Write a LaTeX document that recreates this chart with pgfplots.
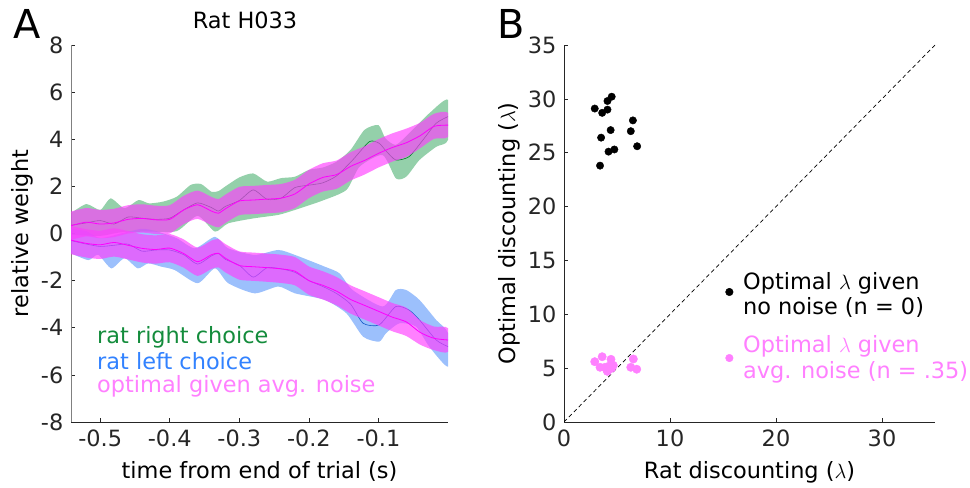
\documentclass[border=0pt]{standalone}
\usepackage{pgfplots}
\pgfplotsset{compat=1.18}
\usepackage{pgfplotstable}
\usepackage{fontspec}
\setmainfont{DejaVu Sans}

\definecolor{gfill}{RGB}{60,170,100}
\definecolor{bfill}{RGB}{90,150,250}
\definecolor{pband}{RGB}{255,60,255}
\definecolor{gline}{RGB}{0,120,40}
\definecolor{bline}{RGB}{20,90,200}
\definecolor{mline}{RGB}{255,0,255}
\definecolor{gtext}{RGB}{20,140,60}
\definecolor{btext}{RGB}{50,130,255}
\definecolor{ptext}{RGB}{255,128,255}
\definecolor{axc}{RGB}{38,38,38}

% optimal (magenta) curves
\pgfplotstableread{
x      m     mn
-0.542 0.33  -0.28
-0.52  0.48  -0.42
-0.50  0.40  -0.48
-0.48  0.45  -0.38
-0.46  0.60  -0.50
-0.44  0.64  -0.63
-0.42  0.58  -0.68
-0.40  0.60  -0.62
-0.38  1.00  -0.85
-0.36  1.22  -1.20
-0.34  0.95  -0.90
-0.33  0.86  -0.84
-0.32  1.05  -1.05
-0.30  1.38  -1.36
-0.28  1.42  -1.41
-0.26  1.46  -1.45
-0.24  1.50  -1.50
-0.22  1.68  -1.60
-0.20  2.10  -2.00
-0.18  2.38  -2.20
-0.16  2.50  -2.45
-0.14  2.85  -2.80
-0.12  3.10  -3.05
-0.10  3.40  -3.30
-0.08  3.65  -3.55
-0.06  3.85  -3.75
-0.04  4.15  -4.20
-0.02  4.55  -4.45
0      4.60  -4.52
}\opt

% band of the positive optimal curve: upper edge, then lower edge backwards
\pgfplotstableread{
x y
-0.542 0.93
-0.52 1.08
-0.50 1.00
-0.48 1.05
-0.46 1.20
-0.44 1.24
-0.42 1.18
-0.40 1.20
-0.38 1.60
-0.36 1.82
-0.34 1.55
-0.33 1.46
-0.32 1.65
-0.30 1.98
-0.28 2.02
-0.26 2.06
-0.24 2.10
-0.22 2.28
-0.20 2.70
-0.18 2.98
-0.16 3.10
-0.14 3.45
-0.12 3.70
-0.10 4.00
-0.08 4.25
-0.06 4.45
-0.04 4.70
-0.02 5.08
0 5.12
0 4.10
-0.02 4.02
-0.04 3.62
-0.06 3.25
-0.08 3.05
-0.10 2.80
-0.12 2.50
-0.14 2.25
-0.16 1.90
-0.18 1.78
-0.20 1.50
-0.22 1.08
-0.24 0.90
-0.26 0.86
-0.28 0.82
-0.30 0.78
-0.32 0.45
-0.33 0.26
-0.34 0.35
-0.36 0.62
-0.38 0.40
-0.40 0.00
-0.42 -0.02
-0.44 0.04
-0.46 0.00
-0.48 -0.15
-0.50 -0.20
-0.52 -0.12
-0.542 -0.27
}\mband

% band of the negative optimal curve
\pgfplotstableread{
x y
-0.542 0.32
-0.52 0.18
-0.50 0.12
-0.48 0.22
-0.46 0.10
-0.44 -0.03
-0.42 -0.08
-0.40 -0.02
-0.38 -0.25
-0.36 -0.60
-0.34 -0.30
-0.33 -0.24
-0.32 -0.45
-0.30 -0.76
-0.28 -0.81
-0.26 -0.85
-0.24 -0.90
-0.22 -1.00
-0.20 -1.40
-0.18 -1.60
-0.16 -1.85
-0.14 -2.20
-0.12 -2.45
-0.10 -2.70
-0.08 -2.95
-0.06 -3.15
-0.04 -3.68
-0.02 -3.95
0 -4.02
0 -5.02
-0.02 -4.95
-0.04 -4.72
-0.06 -4.35
-0.08 -4.15
-0.10 -3.90
-0.12 -3.65
-0.14 -3.40
-0.16 -3.05
-0.18 -2.80
-0.20 -2.60
-0.22 -2.20
-0.24 -2.10
-0.26 -2.05
-0.28 -2.01
-0.30 -1.96
-0.32 -1.65
-0.33 -1.44
-0.34 -1.50
-0.36 -1.80
-0.38 -1.45
-0.40 -1.22
-0.42 -1.28
-0.44 -1.23
-0.46 -1.10
-0.48 -0.98
-0.50 -1.08
-0.52 -1.02
-0.542 -0.88
}\nband

% rat right choice (green)
\pgfplotstableread{
x g
-0.542 0.35
-0.52 0.45
-0.50 0.55
-0.48 0.40
-0.46 0.70
-0.44 0.65
-0.42 0.60
-0.40 0.65
-0.38 1.00
-0.36 1.30
-0.34 1.10
-0.33 0.95
-0.32 1.15
-0.30 1.40
-0.28 1.85
-0.26 1.45
-0.24 1.50
-0.22 1.95
-0.20 2.05
-0.18 2.15
-0.16 2.45
-0.137 3.12
-0.113 3.90
-0.099 3.83
-0.089 3.50
-0.075 3.12
-0.056 3.26
-0.036 3.97
-0.017 4.68
0 4.96
}\gmean
\pgfplotstableread{
x y
-0.542 0.86
-0.52 1.25
-0.50 1.00
-0.485 1.49
-0.465 1.07
-0.445 1.42
-0.43 1.28
-0.41 1.35
-0.39 1.56
-0.37 2.06
-0.355 2.10
-0.34 1.77
-0.33 1.80
-0.32 2.00
-0.30 2.38
-0.28 2.55
-0.26 2.20
-0.24 2.35
-0.22 2.41
-0.20 2.70
-0.18 2.80
-0.16 3.05
-0.14 3.55
-0.12 4.40
-0.10 4.60
-0.09 4.04
-0.075 3.76
-0.056 4.25
-0.027 5.10
0 5.67
0 3.97
-0.017 3.68
-0.041 3.12
-0.06 2.41
-0.075 2.34
-0.094 3.33
-0.127 2.84
-0.146 1.85
-0.18 1.40
-0.22 1.00
-0.244 0.79
-0.28 0.64
-0.316 0.43
-0.335 0.08
-0.36 0.75
-0.39 0.10
-0.43 0.08
-0.47 0.05
-0.50 -0.10
-0.542 -0.05
}\gband

% rat left choice (blue)
\pgfplotstableread{
x b
-0.542 -0.30
-0.52 -0.45
-0.50 -0.55
-0.48 -0.50
-0.46 -0.45
-0.44 -0.75
-0.42 -0.70
-0.40 -0.70
-0.38 -0.90
-0.36 -1.30
-0.34 -0.95
-0.33 -0.85
-0.32 -1.10
-0.30 -1.35
-0.28 -1.85
-0.26 -1.45
-0.24 -1.50
-0.22 -1.65
-0.20 -2.00
-0.18 -2.25
-0.16 -2.55
-0.14 -3.00
-0.122 -3.81
-0.099 -3.88
-0.075 -3.10
-0.056 -3.25
-0.041 -3.67
-0.017 -4.52
0 -4.80
}\bmean
\pgfplotstableread{
x y
-0.542 0.20
-0.52 0.10
-0.50 -0.20
-0.47 0.00
-0.44 0.20
-0.42 0.10
-0.39 -0.20
-0.364 -0.63
-0.335 -0.14
-0.316 -0.63
-0.278 -0.91
-0.244 -0.70
-0.22 -0.91
-0.177 -1.41
-0.156 -1.69
-0.137 -2.40
-0.094 -3.10
-0.075 -2.40
-0.06 -2.40
-0.041 -2.82
-0.017 -3.67
0 -4.23
0 -5.65
-0.027 -4.80
-0.046 -3.95
-0.07 -3.81
-0.089 -4.23
-0.099 -4.59
-0.122 -4.38
-0.146 -3.39
-0.177 -2.82
-0.22 -2.54
-0.244 -2.25
-0.278 -2.54
-0.316 -2.11
-0.335 -1.48
-0.36 -2.11
-0.393 -1.55
-0.412 -1.41
-0.431 -1.27
-0.446 -1.48
-0.465 -1.05
-0.484 -1.48
-0.503 -0.90
-0.517 -1.13
-0.542 -0.84
}\bband

% right panel
\pgfplotstableread{
x y
4.5 30.2
4.1 29.8
2.9 29.1
3.6 28.7
4.1 29.0
6.5 28.0
4.4 27.1
6.3 27.0
3.5 26.4
6.9 25.6
4.75 25.3
4.2 25.1
3.4 23.8
}\noiseless
\pgfplotstableread{
x y
2.9 5.6
3.6 6.06
4.43 5.82
3.4 5.08
4.27 5.2
4.65 5.26
4.03 4.83
4.5 4.99
6.54 5.85
6.3 5.08
6.86 4.9
3.87 5.08
4.1 4.7
}\noisy

\pgfplotsset{
  panel/.style={
    scale only axis,
    axis lines=left,
    axis line style={-, axc, line width=0.8bp},
    tick align=inside,
    major tick length=4bp,
    tick style={axc, line width=0.6bp},
    every tick label/.append style={text=axc},
    label style={text=black},
    ylabel shift=-7bp,
  }
}

\begin{document}
\fontsize{22.5}{27}\selectfont
\begin{tikzpicture}
\path[use as bounding box] (0,0) rectangle (970bp,488bp);

\begin{axis}[panel,
  at={(71bp,66bp)}, anchor=south west, width=377bp, height=377bp,
  xmin=-0.542, xmax=0, ymin=-8, ymax=8,
  y axis line style={black!50},
  xtick={-0.5,-0.4,-0.3,-0.2,-0.1}, xticklabels={-0.5,-0.4,-0.3,-0.2,-0.1},
  ytick={-8,-6,-4,-2,0,2,4,6,8}, yticklabels={-8,-6,-4,-2,0,2,4,6,8},
  xlabel={time from end of trial (s)}, ylabel={relative weight},
]
\addplot[draw=none, fill=gfill, fill opacity=0.55, smooth, tension=0.4] table[x=x,y=y]{\gband} -- cycle;
\addplot[draw=none, fill=bfill, fill opacity=0.6, smooth, tension=0.4] table[x=x,y=y]{\bband} -- cycle;
\addplot[gline, line width=0.6bp, smooth, tension=0.4] table[x=x,y=g]{\gmean};
\addplot[bline, line width=0.6bp, smooth, tension=0.4] table[x=x,y=b]{\bmean};
\addplot[draw=none, fill=pband, fill opacity=0.65, smooth, tension=0.4] table[x=x,y=y]{\mband} -- cycle;
\addplot[draw=none, fill=pband, fill opacity=0.65, smooth, tension=0.4] table[x=x,y=y]{\nband} -- cycle;
\addplot[mline, line width=0.8bp, smooth, tension=0.4] table[x=x,y=m]{\opt};
\addplot[mline, line width=0.8bp, smooth, tension=0.4] table[x=x,y=mn]{\opt};
\end{axis}

\begin{axis}[panel,
  at={(564bp,66bp)}, anchor=south west, width=371bp, height=377bp,
  xmin=0, xmax=35, ymin=0, ymax=35,
  xtick={0,10,20,30}, xticklabels={0,10,20,30},
  ytick={0,5,10,15,20,25,30,35}, yticklabels={0,5,10,15,20,25,30,35},
  xlabel={Rat discounting ($\lambda$)}, ylabel={Optimal discounting ($\lambda$)},
]
\addplot[black, line width=0.7bp, dash pattern=on 4bp off 3bp] coordinates {(0,0) (35,35)};
\addplot[only marks, mark=*, mark size=3.7bp, black] table[x=x,y=y]{\noiseless};
\addplot[only marks, mark=*, mark size=4.2bp, ptext, mark options={draw=ptext, fill=ptext}] table[x=x,y=y]{\noisy};
\addplot[only marks, mark=*, mark size=3.8bp, black] coordinates {(15.6,12.07)};
\addplot[only marks, mark=*, mark size=3.8bp, ptext, mark options={draw=ptext, fill=ptext}] coordinates {(15.6,5.94)};
\end{axis}

\node at (245bp,468bp) {Rat H033};
\node[font=\fontsize{40}{42}\selectfont] at (27bp,464bp) {A};
\node[font=\fontsize{40}{42}\selectfont] at (511bp,464bp) {B};
\node[anchor=west, text=gtext, inner sep=0pt] at (97bp,151bp) {rat right choice};
\node[anchor=west, text=btext, inner sep=0pt] at (97bp,126.5bp) {rat left choice};
\node[anchor=west, text=ptext, inner sep=0pt] at (97bp,101.5bp) {optimal given avg. noise};
\node[anchor=west, align=left, inner sep=0pt, font=\fontsize{22.5}{26}\selectfont] at (743bp,193bp) {Optimal $\lambda$ given\\no noise (n = 0)};
\node[anchor=west, align=left, inner sep=0pt, text=ptext, font=\fontsize{22.5}{26}\selectfont] at (743bp,129bp) {Optimal $\lambda$ given\\avg. noise (n = .35)};
\end{tikzpicture}
\end{document}
